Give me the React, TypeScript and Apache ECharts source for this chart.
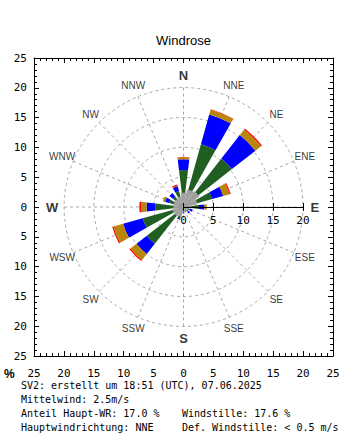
import React, { useEffect, useRef } from 'react';
import * as echarts from 'echarts';

// 16 wind directions (clockwise from north)
const DIRECTIONS = ['N', 'NNE', 'NE', 'ENE', 'E', 'ESE', 'SE', 'SSE', 'S', 'SSW', 'SW', 'WSW', 'W', 'WNW', 'NW', 'NNW'];
const CARDINALS = ['N', 'E', 'S', 'W'];

// frequency (%) per direction and speed class (segment sizes, stacked)
const CLASS_GREY = [2.4, 3.0, 3.2, 2.4, 1.3, 0.9, 0.8, 0.8, 0.9, 1.7, 1.9, 1.9, 1.7, 1.7, 1.7, 1.9];
const CLASS_GREEN = [6.2, 10.9, 10.3, 5.0, 2.6, 1.1, 1.0, 0.9, 0.8, 2.0, 7.8, 7.1, 4.7, 2.5, 2.2, 2.8];
const CLASS_BLUE = [1.8, 5.2, 5.0, 1.9, 0.9, 0.5, 0.4, 0, 0.3, 0.2, 2.2, 3.4, 1.5, 0.7, 0.8, 0.8];
const CLASS_GOLD = [0.35, 0.8, 1.2, 1.1, 0.4, 0, 0, 0, 0, 0, 1.3, 1.7, 0.9, 0.4, 0, 0.1];
const CLASS_RED = [0.05, 0.1, 0.2, 0.2, 0, 0, 0, 0, 0, 0, 0.2, 0.2, 0.3, 0, 0, 0.2];

const INFO_LEFT = [
  'SV2: erstellt um 18:51 (UTC), 07.06.2025',
  'Mittelwind: 2.5m/s',
  'Anteil Haupt-WR: 17.0 %',
  'Hauptwindrichtung: NNE',
];
const INFO_RIGHT = ['', '', 'Windstille: 17.6 %', 'Def. Windstille: < 0.5 m/s'];

export default function App() {
  const ref = useRef<HTMLDivElement>(null);
  useEffect(() => {
    const chart = echarts.init(ref.current!, null, { renderer: 'svg' });
    const CX = 183.5;
    const CY = 207;
    const R = 119.4;
    const LABEL_R = 22;
    const mono = 'DejaVu Sans Mono';
    const sans = 'Liberation Sans';
    const dash = { color: '#a8a8a8', type: [3, 3] as number[], width: 1 };

    const frameAxis = (extra: any) => ({
      type: 'value',
      min: -25,
      max: 25,
      interval: 5,
      gridIndex: 0,
      axisLine: { show: true, onZero: false, lineStyle: { color: '#000', width: 1 } },
      axisTick: { show: true, inside: true, length: 5, lineStyle: { color: '#000' } },
      minorTick: { show: true, splitNumber: 5, length: 3, lineStyle: { color: '#000' } },
      splitLine: { show: false },
      ...extra,
    });

    const classes = [
      { data: CLASS_GREEN, color: '#215e21' },
      { data: CLASS_BLUE, color: '#0000ff' },
      { data: CLASS_GOLD, color: '#b8860b' },
      { data: CLASS_RED, color: '#ff0000' },
    ];

    const graphics: any[] = [
      {
        type: 'text',
        x: CX,
        y: 40,
        style: { text: 'Windrose', fontFamily: sans, fontSize: 13, fill: '#000', align: 'center', verticalAlign: 'middle' },
      },
      {
        type: 'text',
        x: 4,
        y: 374,
        style: { text: '%', fontFamily: sans, fontSize: 12, fontWeight: 'bold', fill: '#000', align: 'left', verticalAlign: 'middle' },
      },
    ];
    INFO_LEFT.forEach((t, i) => {
      graphics.push({
        type: 'text',
        x: 21,
        y: 385 + i * 14,
        style: { text: t, fontFamily: mono, fontSize: 10, fill: '#000', align: 'left', verticalAlign: 'middle' },
      });
    });
    INFO_RIGHT.forEach((t, i) => {
      if (!t) return;
      graphics.push({
        type: 'text',
        x: 182,
        y: 385 + i * 14,
        style: { text: t, fontFamily: mono, fontSize: 10, fill: '#000', align: 'left', verticalAlign: 'middle' },
      });
    });

    const option: any = {
      animation: false,
      backgroundColor: '#fff',
      grid: [
        { left: 34, top: 58, width: 299, height: 298, show: false },
        { left: CX, top: CY, width: R, height: 0, show: false },
      ],
      xAxis: [
        frameAxis({
          position: 'bottom',
          axisLabel: { formatter: (v: number) => String(Math.abs(v)), fontFamily: mono, fontSize: 11, color: '#000', margin: 12 },
        }),
        frameAxis({ position: 'top', axisLabel: { show: false } }),
        {
          type: 'value', gridIndex: 1, position: 'bottom', min: 0, max: 20, interval: 5, z: 10,
          axisLine: { show: true, onZero: false, lineStyle: { color: '#000', width: 1 } },
          axisTick: { show: true, inside: false, length: 4, lineStyle: { color: '#000' } },
          splitLine: { show: false },
          axisLabel: { fontFamily: mono, fontSize: 11, color: '#000', margin: 8 },
        },
        {
          type: 'value', gridIndex: 1, position: 'top', min: 0, max: 20, interval: 5, z: 10,
          axisLine: { show: true, onZero: false, lineStyle: { color: '#000', width: 1 } },
          axisTick: { show: true, inside: false, length: 4, lineStyle: { color: '#000' } },
          splitLine: { show: false },
          axisLabel: { show: false },
        },
      ],
      yAxis: [
        frameAxis({
          position: 'left',
          axisLabel: { formatter: (v: number) => String(Math.abs(v)), fontFamily: mono, fontSize: 11, color: '#000', margin: 7 },
        }),
        frameAxis({ position: 'right', axisLabel: { show: false } }),
        { type: 'value', gridIndex: 1, min: 0, max: 1, show: false },
      ],
      polar: [
        { center: [CX, CY], radius: R },
        { center: [CX, CY], radius: R },
        { center: [CX, CY], radius: R },
      ],
      angleAxis: [
        {
          polarIndex: 0, type: 'value', min: 0, max: 360, interval: 22.5, startAngle: 0,
          axisLine: { show: false }, axisTick: { show: false }, axisLabel: { show: false },
          splitLine: { show: true, lineStyle: dash },
        },
        { polarIndex: 1, type: 'category', data: DIRECTIONS, startAngle: 101.25, show: false },
        { polarIndex: 2, type: 'category', data: DIRECTIONS, startAngle: 101.25, show: false },
      ],
      radiusAxis: [
        {
          polarIndex: 0, type: 'value', min: 0, max: 20, interval: 5,
          axisLine: { show: false }, axisTick: { show: false }, axisLabel: { show: false },
          splitLine: { show: true, lineStyle: dash },
        },
        { polarIndex: 1, type: 'value', min: 0, max: 20, show: false },
        { polarIndex: 2, type: 'value', min: 0, max: 20, show: false },
      ],
      series: [
        ...classes.map((c) => ({
          type: 'bar',
          coordinateSystem: 'polar',
          polarIndex: 1,
          stack: 'wind',
          barWidth: '62%',
          data: c.data,
          itemStyle: { color: c.color },
          silent: true,
          z: 2,
        })),
        {
          type: 'bar',
          coordinateSystem: 'polar',
          polarIndex: 2,
          barWidth: '100%',
          data: CLASS_GREY,
          itemStyle: { color: '#a0a0a0' },
          silent: true,
          z: 3,
        },
        {
          type: 'scatter',
          coordinateSystem: 'polar',
          polarIndex: 1,
          symbolSize: 0,
          clip: false,
          silent: true,
          z: 5,
          label: {
            show: true,
            position: 'inside',
            formatter: '{b}',
            color: '#000',
            fontFamily: sans,
            fontSize: 10,
          },
          data: DIRECTIONS.map((d, i) => ({
            name: d,
            value: [LABEL_R, i],
            label: CARDINALS.includes(d) ? { fontWeight: 'bold', fontSize: 13 } : undefined,
          })),
        },
      ],
      graphic: graphics,
    };
    chart.setOption(option);
    return () => chart.dispose();
  }, []);
  return (
    <div
      ref={ref}
      style={{ position: 'fixed', left: 0, top: 0, width: 350, height: 440, background: '#fff' }}
    />
  );
}
